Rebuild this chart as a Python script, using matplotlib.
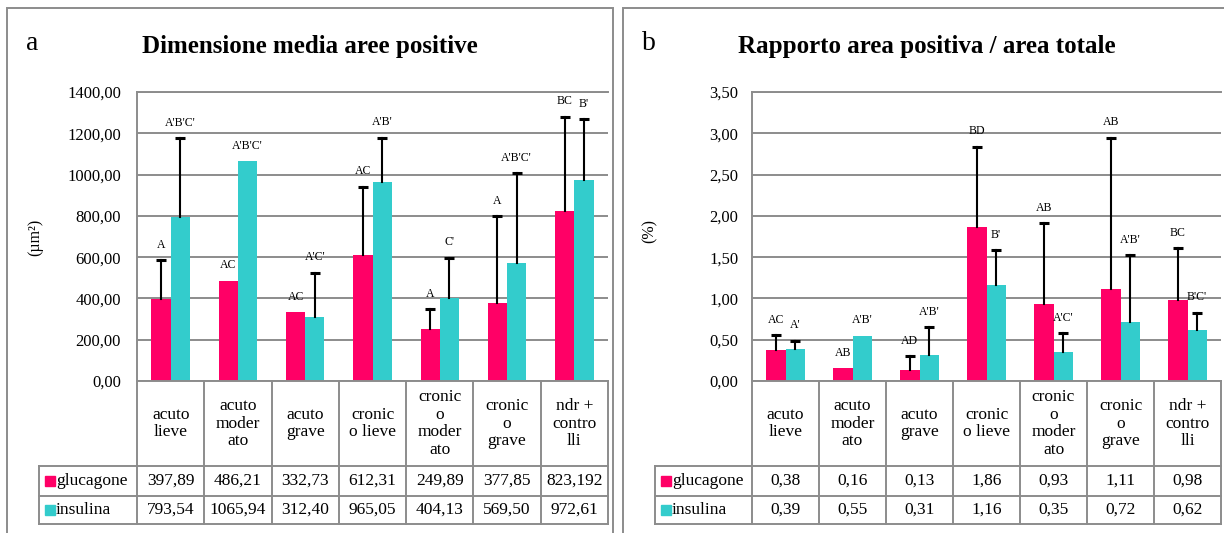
import matplotlib
matplotlib.use("Agg")
import matplotlib.pyplot as plt
from matplotlib.patches import Rectangle
from matplotlib.ticker import FuncFormatter, MultipleLocator

plt.rcParams['font.family'] = ['Liberation Serif', 'DejaVu Serif']

W, H = 1224, 533

categories = ["acuto\nlieve", "acuto\nmoder\nato", "acuto\ngrave", "cronic\no lieve",
              "cronic\no\nmoder\nato", "cronic\no\ngrave", "ndr +\ncontro\nlli"]
series = ["glucagone", "insulina"]

# dimensione media aree positive (um2)
area_gluc_txt = ["397,89", "486,21", "332,73", "612,31", "249,89", "377,85", "823,192"]
area_ins_txt = ["793,54", "1065,94", "312,40", "965,05", "404,13", "569,50", "972,61"]
area_gluc_top = [586, None, None, 941, 347, 799, 1281]
area_ins_top = [1176, None, 525, 1179, 597, 1008, 1268]
area_gluc_sig = ["A", "AC", "AC", "AC", "A", "A", "BC"]
area_ins_sig = ["A'B'C'", "A'B'C'", "A'C'", "A'B'", "C'", "A'B'C'", "B'"]

# rapporto area positiva / area totale (%)
ratio_gluc_txt = ["0,38", "0,16", "0,13", "1,86", "0,93", "1,11", "0,98"]
ratio_ins_txt = ["0,39", "0,55", "0,31", "1,16", "0,35", "0,72", "0,62"]
ratio_gluc_top = [0.557, None, 0.303, 2.838, 1.91, 2.947, 1.607]
ratio_ins_top = [0.488, None, 0.65, 1.587, 0.578, 1.526, 0.827]
ratio_gluc_sig = ["AC", "AB", "AD", "BD", "AB", "AB", "BC"]
ratio_ins_sig = ["A'", "A'B'", "A'B'", "B'", "A'C'", "A'B'", "B'C'"]

PINK, CYAN = "#FF0066", "#33CCCC"
GRAY = "#8c8c8c"
LW = 1.4


def to_num(vals):
    return [float(v.replace(",", ".")) for v in vals]


def box(x0, y0, x1, y1):
    # pixel box -> figure fraction rect
    return [x0 / W, 1 - y1 / H, (x1 - x0) / W, (y1 - y0) / H]


fig = plt.figure(figsize=(W / 100, H / 100), dpi=100)
fig.patch.set_facecolor("white")


def panel(frame, axes_x, leg_left, letter, title, ylabel, ylabel_xy,
          ymax, ystep, pad, gluc_txt, ins_txt, gluc_top, ins_top, gluc_sig, ins_sig):
    fx0, fx1 = frame
    fig.add_artist(Rectangle((fx0 / W, 1 - 560 / H), (fx1 - fx0) / W, 552 / H,
                             transform=fig.transFigure, fill=False, ec=GRAY, lw=LW))
    fig.text((fx0 + 19) / W, 1 - 50 / H, letter, fontsize=20, va="baseline")
    fig.text((fx0 + fx1) / 2 / W, 1 - 53 / H, title, fontsize=18, fontweight="bold",
             ha="center", va="baseline")
    fig.text(ylabel_xy[0] / W, 1 - ylabel_xy[1] / H, ylabel, fontsize=11.5,
             rotation=90, ha="center", va="center")

    ax0, ax1 = axes_x
    ax = fig.add_axes(box(ax0, 92, ax1, 381))
    gluc, ins = to_num(gluc_txt), to_num(ins_txt)
    bw = 0.285
    for off, vals, tops, sigs, col in [(-bw / 2, gluc, gluc_top, gluc_sig, PINK),
                                       (bw / 2, ins, ins_top, ins_sig, CYAN)]:
        xs = [i + off for i in range(len(vals))]
        ax.bar(xs, vals, bw, color=col, zorder=2)
        for x, v, t, s in zip(xs, vals, tops, sigs):
            if t is not None:
                ax.plot([x, x], [v, t], color="black", lw=1.5, zorder=3)
                ax.plot([x], [t], marker="_", ms=7.5, mew=2.2, color="black", zorder=3)
            ax.annotate(s, (x, v if t is None else t), xytext=(0, 11),
                        textcoords="offset points", ha="center", va="center",
                        fontsize=8.5, zorder=4)

    ax.set_xlim(-0.5, len(categories) - 0.5)
    ax.set_ylim(0, ymax)
    ax.yaxis.set_major_locator(MultipleLocator(ystep))
    ax.yaxis.set_major_formatter(FuncFormatter(lambda v, p: f"{v:.2f}".replace(".", ",")))
    ax.set_xticks([])
    ax.tick_params(axis="y", length=0, pad=pad, labelsize=12)
    ax.yaxis.grid(True, color=GRAY, lw=LW, zorder=0)
    ax.set_axisbelow(True)
    for side in ["right", "bottom"]:
        ax.spines[side].set_visible(False)
    for side in ["left", "top"]:
        ax.spines[side].set_color(GRAY)
        ax.spines[side].set_linewidth(LW)

    # data table under the chart
    n = len(categories)
    colw = (ax1 - ax0) / n
    lw_units = (ax0 - leg_left) / colw
    xl = -0.5 - lw_units
    rows = [0, 85, 115, 143]
    tab = fig.add_axes(box(leg_left, 381, ax1, 381 + rows[-1]))
    tab.set_xlim(xl, n - 0.5)
    tab.set_ylim(rows[-1], 0)
    tab.axis("off")
    kw = dict(color=GRAY, lw=LW, clip_on=False, solid_capstyle="projecting")
    tab.plot([-0.5, n - 0.5], [0, 0], **kw)
    for r in rows[1:]:
        tab.plot([xl, n - 0.5], [r, r], **kw)
    for i in range(n + 1):
        tab.plot([i - 0.5, i - 0.5], [0, rows[-1]], **kw)
    tab.plot([xl, xl], [rows[1], rows[-1]], **kw)

    for i, c in enumerate(categories):
        tab.text(i, rows[1] / 2, c, ha="center", va="center", fontsize=12.5, linespacing=1.15)
    for (r0, r1), name, txt, col in [((rows[1], rows[2]), series[0], gluc_txt, PINK),
                                     ((rows[2], rows[3]), series[1], ins_txt, CYAN)]:
        yc = (r0 + r1) / 2
        tab.plot([xl + 11 / colw], [yc], marker="s", ms=6.5, color=col, clip_on=False)
        tab.text(xl + 17 / colw, yc, name, ha="left", va="center", fontsize=12.5)
        for i, t in enumerate(txt):
            tab.text(i, yc, t, ha="center", va="center", fontsize=12.5)


panel((7, 613), (137, 608), 39, "a", "Dimensione media aree positive", "(µm²)", (35, 237),
      1400, 200, 11.5, area_gluc_txt, area_ins_txt, area_gluc_top, area_ins_top,
      area_gluc_sig, area_ins_sig)
panel((623, 1231), (752, 1221), 655, "b", "Rapporto area positiva / area totale", "(%)", (650, 231),
      3.5, 0.5, 10, ratio_gluc_txt, ratio_ins_txt, ratio_gluc_top, ratio_ins_top,
      ratio_gluc_sig, ratio_ins_sig)

fig.savefig("out.png", dpi=100)
